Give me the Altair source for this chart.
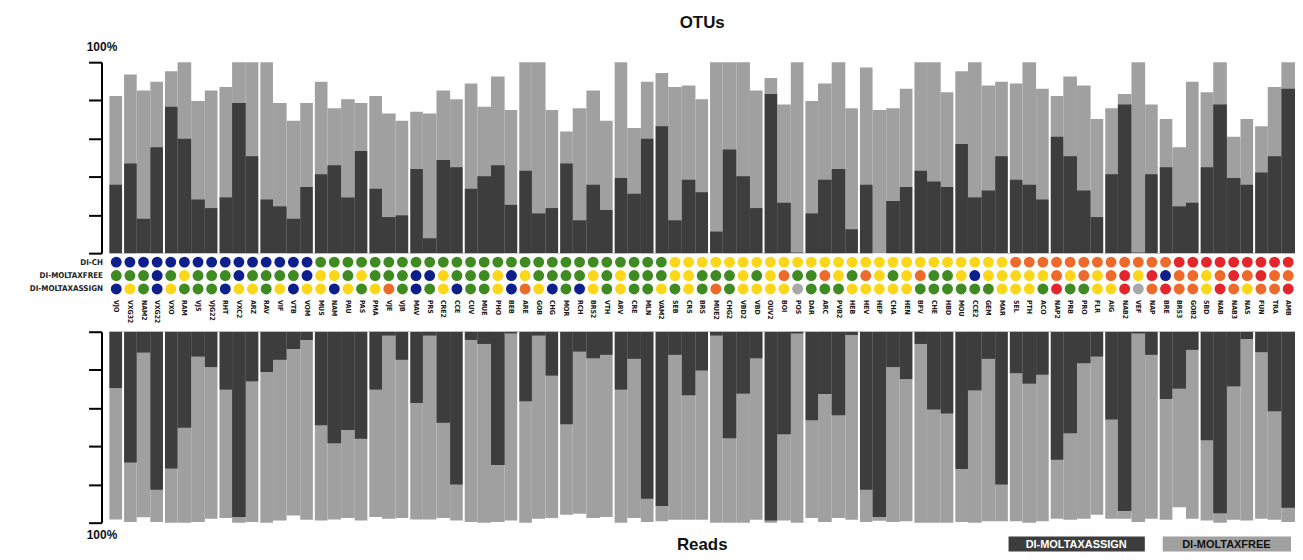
import altair as alt
import pandas as pd

samples = ["VJO", "VXG32", "NAM2", "VXG22", "VXO", "RAM", "VJS", "VJG22", "RHT", "VXC2",
           "ARZ", "RAV", "VIF", "VTB", "VOM", "MUS", "NAM", "PAU", "PAS", "PMA",
           "VJE", "VJB", "MAV", "PRS", "CRE2", "CCE", "CUV", "MUE", "PHO", "BEB",
           "ARE", "GOB", "CHG", "MOR", "RCH", "BRS2", "VTH", "ARV", "CRE", "MLN",
           "VAM2", "SEB", "CRS", "BRS", "MUE2", "CHG2", "VBD2", "VBD", "OUV2", "BOI",
           "POS", "DAR", "ARC", "PVB2", "HEB", "HEV", "HEP", "CHA", "HEN", "BFV",
           "CHE", "HBD", "MOU", "CCE2", "GEM", "MAR", "SEL", "PTH", "ACO", "NAP2",
           "PRB", "PRO", "FLR", "AIG", "NAB2", "VEF", "NAP", "BRE", "BRS3", "GOB2",
           "SBD", "NAB", "NAB3", "NAS", "FUN", "TRA", "AMB"]

group_sizes = [1, 3, 4, 3, 4, 4, 3, 4, 4, 3, 4, 3, 4, 4, 3, 4, 4, 3, 4, 3, 4, 4, 3, 4, 3]

otu_free = [82.3, 93.6, 85.2, 89.8, 95.3, 100, 79.7, 85.2, 87, 100,
            100, 100, 78.6, 69.3, 78.6, 89.8, 75.9, 80.6, 78.6, 82.3,
            73.1, 69.3, 74, 73.1, 85.2, 80.6, 88.9, 76.7, 92.5, 75,
            100, 100, 75, 63.7, 75.9, 85.2, 69.3, 100, 65.6, 89.8,
            94.4, 87, 87.8, 80.6, 100, 100, 100, 85.2, 91.7, 77.8,
            100, 79.7, 88.9, 100, 75.9, 97.2, 75, 75.9, 86.1, 100,
            100, 84.2, 95.3, 100, 87.8, 89.8, 88.9, 100, 86.1, 82.3,
            92.5, 87.8, 70.3, 75.9, 83.3, 100, 77.8, 70.3, 55.4, 89.8,
            84.2, 100, 60.9, 70.3, 66.5, 87, 100]
otu_assign = [35.8, 47, 18, 55.4, 76.7, 59.9, 28.1, 23.6, 29.2, 78.6,
              50.7, 28.1, 24.5, 18, 34.7, 41.3, 46, 29.2, 53.5, 33.7,
              18.9, 19.8, 44.1, 7.8, 48.8, 45, 33.7, 40.3, 46, 25.3,
              43.2, 20.8, 23.6, 47, 17.2, 35.8, 22.6, 39.4, 31.1, 59.9,
              66.5, 17.2, 38.5, 31.9, 11.3, 54.3, 40.3, 23.6, 83.3, 26.4,
              0.3, 20.8, 38.5, 44.1, 12.5, 35.8, 0, 27.3, 34.7, 43.2,
              37.5, 34.7, 57.1, 29.2, 32.8, 50.7, 38.5, 35.8, 28.1, 60.9,
              50.7, 32.8, 18.9, 41.3, 77.8, 0.3, 41.3, 45, 24.5, 26.4,
              45, 77.8, 39.4, 35.8, 42.2, 50.7, 86.1]
reads_free = [98.3, 99.7, 97.2, 99.7, 100, 100, 99.7, 97.9, 97.6, 100,
              99.7, 100, 98.8, 96.2, 98.4, 98.8, 98.3, 97.6, 98.8, 97,
              97.9, 97.6, 98.3, 98.3, 97.6, 98.8, 99.7, 100, 99.7, 98.8,
              100, 97.9, 97.6, 95.8, 95.3, 97.6, 97, 100, 97.6, 99.7,
              99.3, 98.4, 98.4, 98.4, 100, 100, 100, 98.4, 100, 98.8,
              100, 97.6, 99.7, 97.6, 98.4, 99.7, 99, 99.7, 99.3, 100,
              100, 100, 99.7, 100, 99.3, 99.3, 99.3, 100, 99.3, 97.9,
              98.4, 97.9, 95.8, 97.9, 97.9, 99.7, 97.9, 98.4, 91.9, 97.9,
              98.8, 100, 98.4, 98.8, 97.9, 98.4, 99.7]
reads_assign = [29.5, 68.5, 10.9, 82.7, 71.6, 50.3, 13, 18.5, 30.3, 97,
                26, 21.1, 14.7, 9, 4.3, 49, 58.4, 51.5, 56, 30.3,
                2, 14.7, 37.3, 2, 47.7, 80, 4.3, 6.4, 69.8, 0.9,
                36.4, 2, 23, 48.5, 10.4, 13.9, 12.1, 30.3, 14.2, 87.5,
                91.3, 12.1, 33.3, 20.3, 2, 55.8, 32.4, 13.9, 98.8, 53.7,
                0.9, 46.4, 32.6, 43.7, 1.7, 82.7, 97, 18.5, 24.8, 6.4,
                40.7, 42.8, 71.9, 30.7, 14.2, 80, 21.7, 27.2, 22.5, 67.1,
                53.2, 16.5, 13, 45.9, 93.9, 0.9, 12.1, 35.2, 29.8, 9.5,
                56.8, 95, 28.6, 3.8, 10.7, 41.6, 92.2]

row_names = ["DI-CH", "DI-MOLTAXFREE", "DI-MOLTAXASSIGN"]
di_ch = list("NNNNNNNNNNNNNNN" "GGGGGGGGGGGGGGGGGGGGGGGGGG" "YYYYYYYYYYYYYYYYYYYYYYYYY" "OOOOOOOOOOOO" "RRRRRRRRR")
di_free = list("GGGNGYGGGNGGGGN" "YYGYGGGNNYGGGYNYGGGGYGYG" "GGYYGGGYGYOGGOYGOYGYOGG" "YNYYYYYOYOYORYRNOOYORORO" "O")
di_assign = list("NYGNYGGGNYYGYNY" "YNYGYOGNGYNGGYNOYNGNYGYG" "GYGYGOGYYYYXGGGYYYYYGGG" "GGGYYYGRGGYYRXOROOYROYOOR")

code_names = ["N", "G", "Y", "O", "R", "X"]
code_colors = ["#0c1f8c", "#3f8b22", "#fcd619", "#ee6a2b", "#e4262c", "#a8a8a8"]

DARK = "#3d3d3d"
LIGHT = "#a0a0a0"
FONT = "Liberation Sans"
NARROW = "Liberation Sans Narrow, DejaVu Sans Condensed, Liberation Sans, sans-serif"

n = len(samples)
idx = list(range(1, n + 1))
otu_df = pd.DataFrame({"idx": idx, "sample": samples, "free": otu_free, "assign": otu_assign})
reads_df = pd.DataFrame({"idx": idx, "sample": samples, "free": reads_free, "assign": reads_assign})

starts = []
s = 1
for g in group_sizes[:-1]:
    s += g
    starts.append(s)
sep_df = pd.DataFrame({"idx": starts})

dot_rows = []
for name, codes in zip(row_names, [di_ch, di_free, di_assign]):
    for i, c in zip(idx, codes):
        dot_rows.append({"idx": i, "row": name, "code": c})
dots_df = pd.DataFrame(dot_rows)

W = 1192
H = 192
xscale = alt.Scale(paddingInner=0, paddingOuter=0)
xenc = alt.X("idx:O", axis=None, scale=xscale)


def yaxis(title_y, baseline):
    return alt.Axis(values=[0, 20, 40, 60, 80, 100], labels=False, tickSize=13, tickWidth=2,
                    domainWidth=2, tickColor="black", domainColor="black", offset=8, grid=False,
                    title="100%", titleAngle=0, titleX=0, titleY=title_y, titleAlign="center",
                    titleBaseline=baseline, titleFontSize=12, titleFontWeight="bold",
                    titleFont=FONT, titleColor="#111")


def panel(df, reverse, title_y, baseline):
    sc = alt.Scale(domain=[0, 100], reverse=reverse, nice=False)
    ax = yaxis(title_y, baseline)
    light = alt.Chart(df).mark_bar(color=LIGHT).encode(
        x=xenc, y=alt.Y("free:Q", scale=sc, axis=ax))
    dark = alt.Chart(df).mark_bar(color=DARK).encode(
        x=xenc, y=alt.Y("assign:Q", scale=sc, axis=ax))
    seps = alt.Chart(sep_df).mark_rule(color="white", strokeWidth=2).encode(
        x=alt.X("idx:O", bandPosition=0, axis=None, scale=xscale),
        y=alt.value(0), y2=alt.value(H))
    return [light, dark, seps]


top = alt.layer(*panel(otu_df, False, -9, "bottom")).properties(
    width=W, height=H,
    title=alt.TitleParams("OTUs", fontSize=17, fontWeight="bold", font=FONT, anchor="middle",
                          frame="group", offset=8, color="#111"))

dots = alt.Chart(dots_df).mark_circle(size=120, opacity=1).encode(
    x=xenc,
    y=alt.Y("row:N", scale=alt.Scale(type="point", domain=row_names, range=[8, 35], padding=0),
            axis=alt.Axis(title=None, ticks=False, domain=False, labelFont=NARROW, labelFontSize=8,
                          labelFontWeight="bold", labelPadding=7, labelColor="#222")),
    color=alt.Color("code:N", scale=alt.Scale(domain=code_names, range=code_colors), legend=None))
labels = alt.Chart(otu_df).mark_text(angle=90, align="left", baseline="middle", fontSize=7,
                                     fontWeight="bold", font=NARROW, color="#1a1a1a").encode(
    x=xenc, y=alt.value(46), text="sample:N")
mid = alt.layer(dots, labels).properties(width=W, height=77)

one = pd.DataFrame({"a": [0]})
leg_dark = alt.Chart(one).mark_rect(color=DARK).encode(
    x=alt.value(904), x2=alt.value(1041), y=alt.value(206), y2=alt.value(221))
leg_light = alt.Chart(one).mark_rect(color=LIGHT).encode(
    x=alt.value(1059), x2=alt.value(1188), y=alt.value(206), y2=alt.value(221))
leg_dark_t = alt.Chart(one).mark_text(text="DI-MOLTAXASSIGN", color="white", fontSize=11,
                                      fontWeight="bold", font=FONT, baseline="middle").encode(
    x=alt.value(972), y=alt.value(214))
leg_light_t = alt.Chart(one).mark_text(text="DI-MOLTAXFREE", color="#111", fontSize=11,
                                       fontWeight="bold", font=FONT, baseline="middle").encode(
    x=alt.value(1123), y=alt.value(214))
reads_t = alt.Chart(one).mark_text(text="Reads", color="#111", fontSize=17, fontWeight="bold",
                                   font=FONT, baseline="middle").encode(
    x=alt.value(W / 2), y=alt.value(214))

bottom = alt.layer(*panel(reads_df, True, H + 7, "top"), leg_dark, leg_light, leg_dark_t,
                   leg_light_t, reads_t).properties(width=W, height=H)

chart = alt.vconcat(top, mid, bottom, spacing=0).configure_view(stroke=None).configure_concat(
    spacing=0).properties(padding={"left": 21, "top": 5, "right": 0, "bottom": 0}, background="white")

chart.save("out.html", embed_options={"renderer": "svg", "actions": False})
